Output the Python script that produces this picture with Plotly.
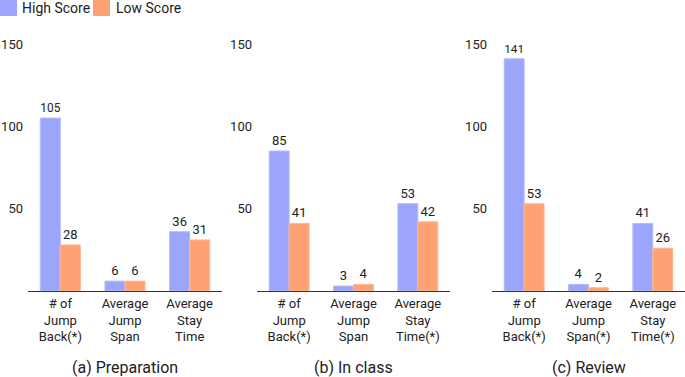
import plotly.graph_objects as go

categories_a = ["# of<br>Jump<br>Back(*)", "Average<br>Jump<br>Span", "Average<br>Stay<br>Time"]
categories_b = ["# of<br>Jump<br>Back(*)", "Average<br>Jump<br>Span", "Average<br>Stay<br>Time(*)"]
categories_c = ["# of<br>Jump<br>Back(*)", "Average<br>Jump<br>Span(*)", "Average<br>Stay<br>Time(*)"]

high_a = [105, 6, 36]
low_a = [28, 6, 31]
high_b = [85, 3, 53]
low_b = [41, 4, 42]
high_c = [141, 4, 41]
low_c = [53, 2, 26]

series_names = ["High Score", "Low Score"]
panel_titles = ["(a) Preparation", "(b) In class", "(c) Review"]
tick_vals = [50, 100, 150]

HIGH = "#9BA6FA"
LOW = "#FFA273"
FONT = "Roboto"
TXT = "#222222"

W, H = 685, 377
fig = go.Figure()

panels = [(categories_a, high_a, low_a), (categories_b, high_b, low_b), (categories_c, high_c, low_c)]
x_domains_px = [(28, 222), (257, 450), (492, 685)]

for i, (cats, hi, lo) in enumerate(panels):
    sfx = "" if i == 0 else str(i + 1)
    fig.add_trace(go.Bar(x=cats, y=hi, name=series_names[0], marker_color=HIGH,
                         marker_line=dict(color="#B4BCFB", width=1),
                         text=hi, textposition="outside", cliponaxis=False,
                         textfont=dict(size=13, color=TXT, family=FONT),
                         xaxis="x" + sfx, yaxis="y" + sfx, showlegend=False))
    fig.add_trace(go.Bar(x=cats, y=lo, name=series_names[1], marker_color=LOW,
                         marker_line=dict(color="#FFB795", width=1),
                         text=lo, textposition="outside", cliponaxis=False,
                         textfont=dict(size=13, color=TXT, family=FONT),
                         xaxis="x" + sfx, yaxis="y" + sfx, showlegend=False))

y_bottom = (H - 291) / H
y_top = (H - 27.5) / H
layout = dict(
    width=W, height=H, margin=dict(l=0, r=0, t=0, b=0, autoexpand=False),
    paper_bgcolor="white", plot_bgcolor="white",
    barmode="group", bargap=0.38, bargroupgap=0,
    font=dict(family=FONT, size=13, color=TXT),
    showlegend=False,
)
for i, (x0, x1) in enumerate(x_domains_px):
    sfx = "" if i == 0 else str(i + 1)
    layout["xaxis" + sfx] = dict(domain=[x0 / W, x1 / W], anchor="y" + sfx,
                                 showline=True, linecolor="#333333", linewidth=1,
                                 ticks="", showgrid=False, automargin=False,
                                 tickfont=dict(size=13, family=FONT, color=TXT))
    layout["yaxis" + sfx] = dict(domain=[y_bottom, y_top], anchor="x" + sfx,
                                 range=[0, 160], tickvals=tick_vals, showgrid=False,
                                 zeroline=False, showline=False, ticks="", automargin=False,
                                 ticklabelstandoff=4,
                                 tickfont=dict(size=13, family=FONT, color=TXT))
fig.update_layout(**layout)

# legend swatches + labels (manual, to match the reference legend geometry)
legend_items = [(series_names[0], HIGH, 0, 20), (series_names[1], LOW, 93, 114)]
for name, col, sx, tx in legend_items:
    fig.add_shape(type="rect", xref="paper", yref="paper",
                  x0=sx / W, x1=(sx + 17) / W, y0=(H - 16) / H, y1=(H - 0) / H,
                  fillcolor=col, line=dict(width=0))
    fig.add_annotation(x=tx / W, y=(H - 8) / H, xref="paper", yref="paper", text=name,
                       showarrow=False, xanchor="left", yanchor="middle",
                       font=dict(size=14, family=FONT, color=TXT))

for i, (x0, x1) in enumerate(x_domains_px):
    fig.add_annotation(x=(x0 + x1) / 2 / W, y=(H - 367) / H, xref="paper", yref="paper",
                       text=panel_titles[i], showarrow=False, xanchor="center", yanchor="middle",
                       font=dict(size=16, family=FONT, color=TXT))

fig.write_html("out.html", config={"displayModeBar": False},
               post_script="document.body.style.margin='0';document.body.style.overflow='hidden';")
